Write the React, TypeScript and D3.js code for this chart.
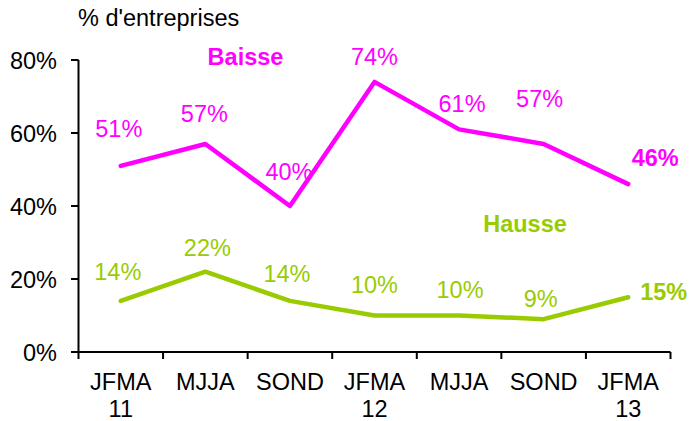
import React from "react";
import * as d3 from "d3";

const categories = ["JFMA|11", "MJJA", "SOND", "JFMA|12", "MJJA", "SOND", "JFMA|13"];
const baisse = [51, 57, 40, 74, 61, 57, 46];
const hausse = [14, 22, 14, 10, 10, 9, 15];
const yTicks = [0, 20, 40, 60, 80];

// label offsets (layout only)
const baisseOff = [[-2, -29], [-1, -22], [-1, -26], [0, -17], [3, -17], [-4, -37], [27, -18]];
const hausseOff = [[-3, -21], [2, -16], [-3, -19], [0, -23], [1, -18], [-3, -12.5], [35.5, 3]];

const W = 691, H = 421;
const MAG = "#FF00FF";
const GRN = "#99CC00";
const FONT = "'Liberation Sans', Arial, sans-serif";
const FS = 23.5;

export default function App() {
  const x = d3.scaleBand<number>().domain(d3.range(categories.length)).range([78.5, 670.5]);
  const y = d3.scaleLinear().domain([0, 80]).range([352, 60]);
  const cx = (i: number) => (x(i) as number) + x.bandwidth() / 2;
  const line = d3.line<number>().x((_, i) => cx(i)).y((d) => y(d));

  return (
    <svg width={W} height={H} style={{ position: "absolute", left: 0, top: 0, background: "#fff" }} fontFamily={FONT}>
      <text x={78} y={26} fontSize={FS} fill="#000">% d'entreprises</text>
      {/* y axis */}
      <line x1={78.5} x2={78.5} y1={y(80)} y2={y(0)} stroke="#000" strokeWidth={2} />
      {yTicks.map((t) => (
        <g key={t}>
          <line x1={71} x2={78.5} y1={y(t)} y2={y(t)} stroke="#000" strokeWidth={2} />
          <text x={57} y={y(t) + 8.5} fontSize={FS} textAnchor="end" fill="#000">{t}%</text>
        </g>
      ))}
      {/* x axis */}
      <line x1={78.5} x2={670.5} y1={y(0)} y2={y(0)} stroke="#000" strokeWidth={2} />
      {d3.range(categories.length + 1).map((i) => {
        const xx = i < categories.length ? (x(i) as number) : 670.5;
        return <line key={i} x1={xx} x2={xx} y1={y(0)} y2={y(0) + 7} stroke="#000" strokeWidth={2} />;
      })}
      {categories.map((c, i) => (
        <text key={i} x={cx(i)} y={390} fontSize={FS} textAnchor="middle" fill="#000">
          {c.split("|").map((p, j) => (
            <tspan key={j} x={cx(i)} dy={j === 0 ? 0 : 27}>{p}</tspan>
          ))}
        </text>
      ))}
      {/* lines */}
      <path d={line(baisse) || ""} fill="none" stroke={MAG} strokeWidth={4.5} strokeLinejoin="round" strokeLinecap="round" />
      <path d={line(hausse) || ""} fill="none" stroke={GRN} strokeWidth={4.5} strokeLinejoin="round" strokeLinecap="round" />
      {baisse.map((v, i) => (
        <text key={"b" + i} x={cx(i) + baisseOff[i][0]} y={y(v) + baisseOff[i][1]} fontSize={FS}
          textAnchor="middle" fill={MAG} fontWeight={i === baisse.length - 1 ? "bold" : "normal"}>{v}%</text>
      ))}
      {hausse.map((v, i) => (
        <text key={"h" + i} x={cx(i) + hausseOff[i][0]} y={y(v) + hausseOff[i][1]} fontSize={FS}
          textAnchor="middle" fill={GRN} fontWeight={i === hausse.length - 1 ? "bold" : "normal"}>{v}%</text>
      ))}
      <text x={245.5} y={65} fontSize={FS} fontWeight="bold" textAnchor="middle" fill={MAG}>Baisse</text>
      <text x={525} y={232} fontSize={FS} fontWeight="bold" textAnchor="middle" fill={GRN}>Hausse</text>
    </svg>
  );
}
